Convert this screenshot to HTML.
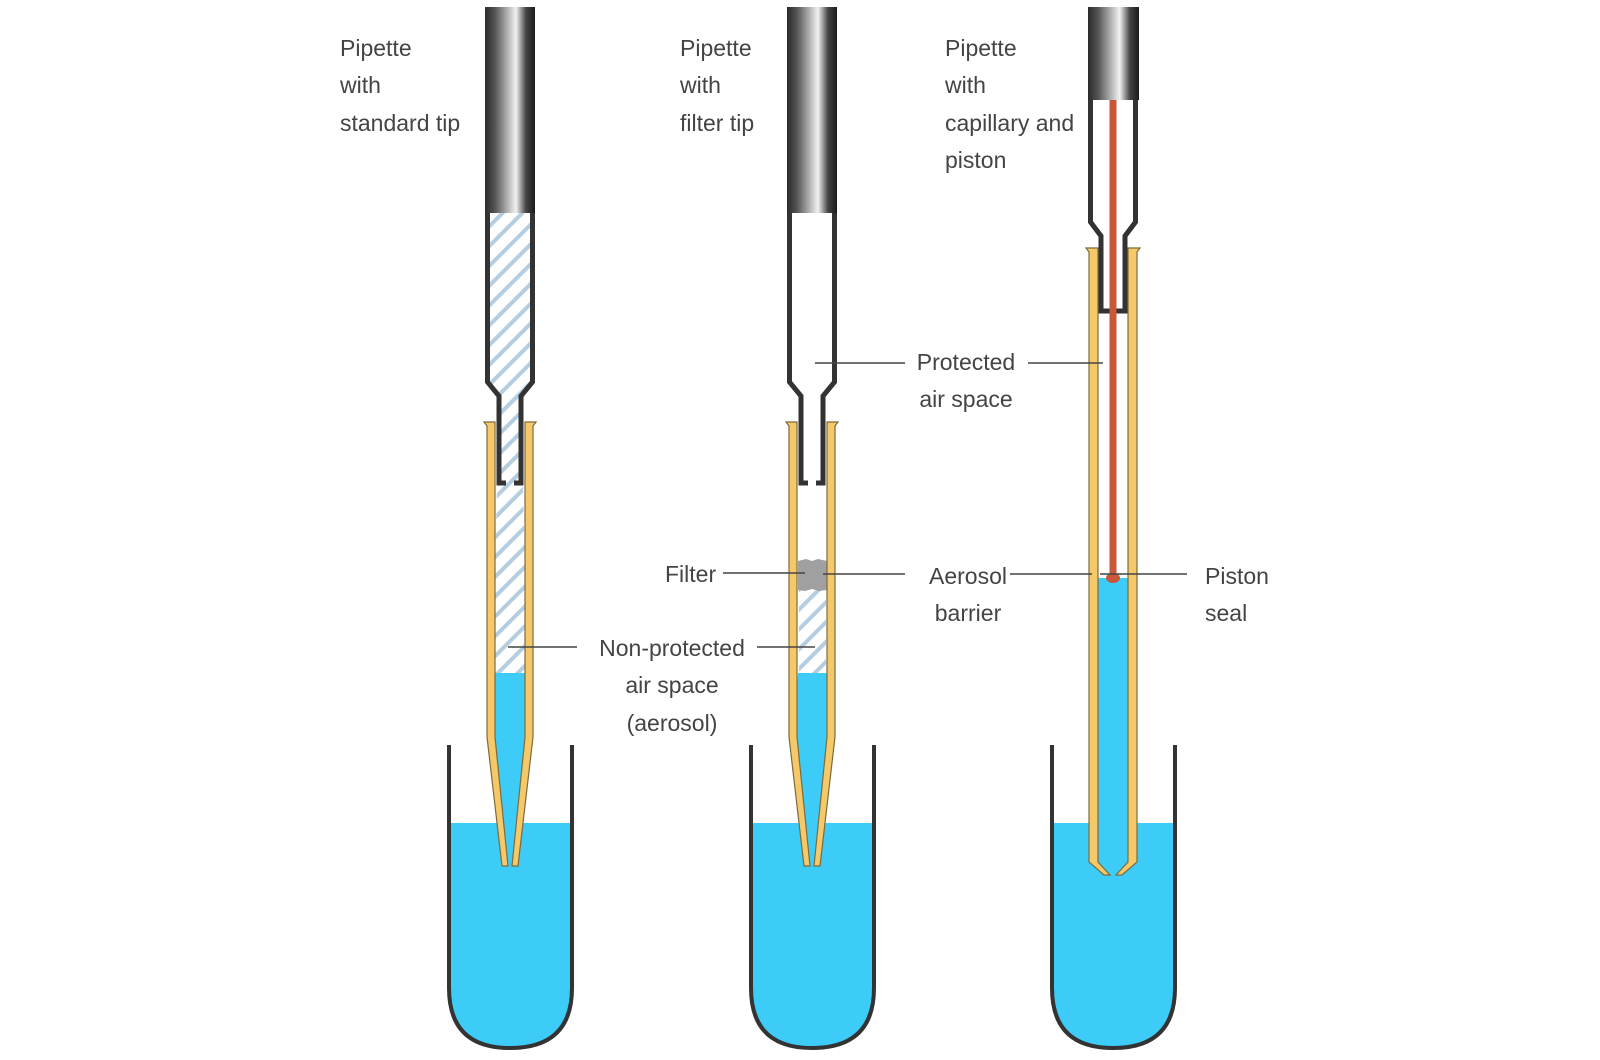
<!DOCTYPE html>
<html><head><meta charset="utf-8"><style>
html,body{margin:0;padding:0;background:#fff;}
svg{display:block;}
text{font-family:"Liberation Sans",sans-serif;font-size:23px;fill:#444;}
</style></head><body>
<svg width="1600" height="1060" viewBox="0 0 1600 1060" xmlns="http://www.w3.org/2000/svg">
<defs>
<linearGradient id="g" x1="0" x2="1" y1="0" y2="0">
<stop offset="0" stop-color="#2a2a2a"/><stop offset="0.2" stop-color="#555"/>
<stop offset="0.62" stop-color="#f2f2f2"/><stop offset="0.82" stop-color="#444"/><stop offset="1" stop-color="#1a1a1a"/>
</linearGradient>
<pattern id="h" width="14" height="14" patternUnits="userSpaceOnUse" patternTransform="rotate(45)">
<rect width="14" height="14" fill="#fff"/><rect x="0" y="0" width="4" height="14" fill="#b4cde0"/>
</pattern>
</defs>

<g>
<path d="M449 823 H572 V988 Q572 1048 510 1048 Q449 1048 449 988 Z" fill="#3dcbf8"/>
<path d="M449 745 V988 Q449 1048 510 1048 Q572 1048 572 988 V745" fill="none" stroke="#333" stroke-width="4"/>
<path d="M751 823 H874 V988 Q874 1048 812 1048 Q751 1048 751 988 Z" fill="#3dcbf8"/>
<path d="M751 745 V988 Q751 1048 812 1048 Q874 1048 874 988 V745" fill="none" stroke="#333" stroke-width="4"/>
<path d="M1052 823 H1175 V988 Q1175 1048 1113 1048 Q1052 1048 1052 988 Z" fill="#3dcbf8"/>
<path d="M1052 745 V988 Q1052 1048 1113 1048 Q1175 1048 1175 988 V745" fill="none" stroke="#333" stroke-width="4"/>
</g>

<g>
<rect x="485" y="7" width="50" height="206" fill="url(#g)"/>
<path d="M488 213 V382 L499 396 V485 H521 V396 L532 382 V213 Z" fill="url(#h)"/>
<path d="M497 485 L491 737 L506 865 L514 865 L529 737 L523 485 Z" fill="url(#h)"/>
<path d="M492 673 H528 L529 737 L514 865 L506 865 L491 737 Z" fill="#3dcbf8"/>
<path d="M487.5 213 V382 L499 396 V483 H506 M532.5 213 V382 L521 396 V483 H514" fill="none" stroke="#333" stroke-width="5"/>
<path d="M484 422 H495 V737 L508 866 H502 L487 737 V426 Z" fill="#f5c86a" stroke="#7d6b3c" stroke-width="1.2"/>
<path d="M536 422 H525 V737 L512 866 H518 L533 737 V426 Z" fill="#f5c86a" stroke="#7d6b3c" stroke-width="1.2"/>
</g>

<g>
<rect x="787" y="7" width="50" height="206" fill="url(#g)"/>
<path d="M789.5 213 V382 L801 396 V483 H808 M834.5 213 V382 L823 396 V483 H816" fill="none" stroke="#333" stroke-width="5"/>
<path d="M799 590 H826 V673 H799 Z" fill="url(#h)"/>
<path d="M798 561 L806 559 L812 561 L818 559 L827 561 V590 L819 591 L812 589 L805 591 L798 590 Z" fill="#a0a0a0"/>
<path d="M798 673 H827 L830 737 L816 865 L808 865 L794 737 Z" fill="#3dcbf8"/>
<path d="M786 422 H797 V737 L810 866 H804 L789 737 V426 Z" fill="#f5c86a" stroke="#7d6b3c" stroke-width="1.2"/>
<path d="M838 422 H827 V737 L814 866 H820 L835 737 V426 Z" fill="#f5c86a" stroke="#7d6b3c" stroke-width="1.2"/>
</g>

<g>
<rect x="1088" y="7" width="51" height="93" fill="url(#g)"/>
<path d="M1098 578 H1128 V862 L1117 875 H1109 L1098 862 Z" fill="#3dcbf8"/>
<path d="M1090.5 100 V222 L1101 236 V311 H1125 V236 L1135.5 222 V100" fill="none" stroke="#333" stroke-width="5"/>
<path d="M1109.5 100 H1116.5 V578 H1109.5 Z" fill="#c9573a"/>
<ellipse cx="1113" cy="578" rx="7" ry="5" fill="#c9573a"/>
<path d="M1086 248 H1098 V862 L1110 875 H1104 L1089 862 V252 Z" fill="#f5c86a" stroke="#7d6b3c" stroke-width="1.2"/>
<path d="M1140 248 H1128 V862 L1116 875 H1122 L1137 862 V252 Z" fill="#f5c86a" stroke="#7d6b3c" stroke-width="1.2"/>
</g>

<g stroke="#444" stroke-width="1.5">
<line x1="815" y1="363" x2="905" y2="363"/>
<line x1="1028" y1="363" x2="1103" y2="363"/>
<line x1="723" y1="573" x2="805" y2="573"/>
<line x1="823" y1="574" x2="905" y2="574"/>
<line x1="1010" y1="574" x2="1092" y2="574"/>
<line x1="1100" y1="574" x2="1187" y2="574"/>
<line x1="508" y1="647" x2="577" y2="647"/>
<line x1="757" y1="647" x2="815" y2="647"/>
</g>

<text x="340" y="56">Pipette</text>
<text x="340" y="93">with</text>
<text x="340" y="131">standard tip</text>
<text x="680" y="56">Pipette</text>
<text x="680" y="93">with</text>
<text x="680" y="131">filter tip</text>
<text x="945" y="56">Pipette</text>
<text x="945" y="93">with</text>
<text x="945" y="131">capillary and</text>
<text x="945" y="168">piston</text>
<text x="966" y="370" text-anchor="middle">Protected</text>
<text x="966" y="407" text-anchor="middle">air space</text>
<text x="665" y="582">Filter</text>
<text x="968" y="584" text-anchor="middle">Aerosol</text>
<text x="968" y="621" text-anchor="middle">barrier</text>
<text x="1205" y="584">Piston</text>
<text x="1205" y="621">seal</text>
<text x="672" y="656" text-anchor="middle">Non-protected</text>
<text x="672" y="693" text-anchor="middle">air space</text>
<text x="672" y="731" text-anchor="middle">(aerosol)</text>
</svg>
</body></html>
